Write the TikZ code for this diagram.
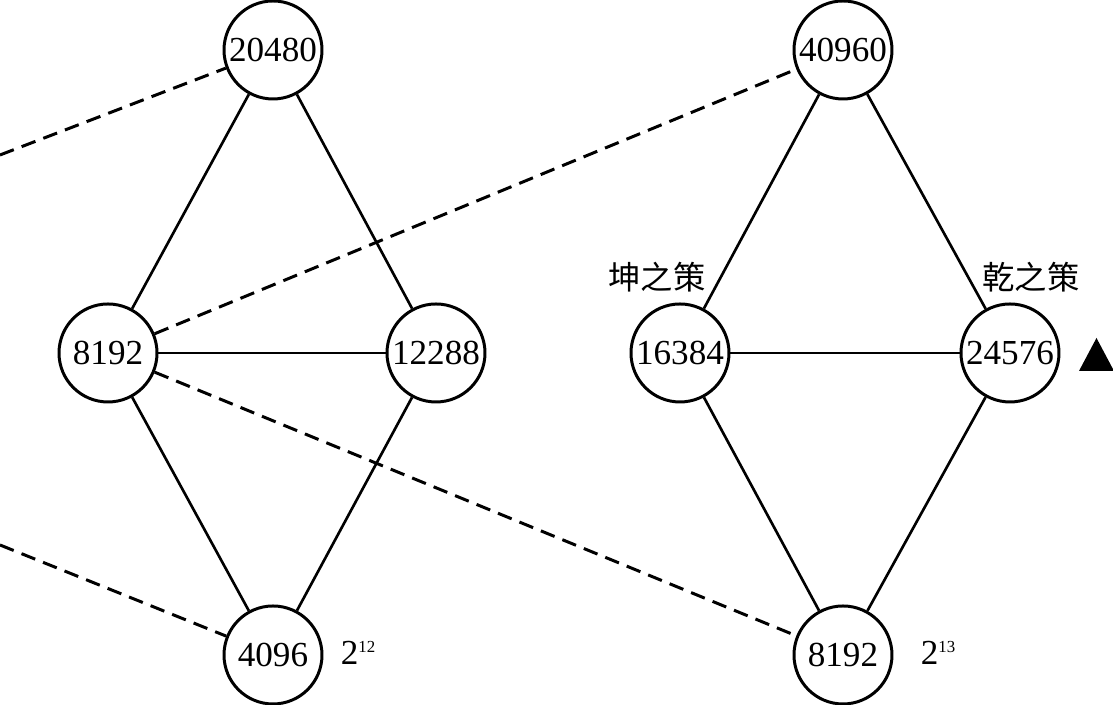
\documentclass[tikz,border=0pt]{standalone}
\usepackage{fontspec}
\setmainfont{Liberation Serif}
\newfontfamily\cjkfont{Noto Sans CJK SC}
\usetikzlibrary{calc}

\begin{document}
\begin{tikzpicture}[
    line width=0.75pt,
    num/.style={circle,draw,line width=0.85pt,minimum size=0.98cm,inner sep=0pt,
      font=\fontsize{10}{12}\selectfont},
    lbl/.style={font=\fontsize{10}{12}\selectfont},
    ce/.style={font=\cjkfont\fontsize{9.2}{11}\selectfont},
    dsh/.style={line width=0.85pt,dash pattern=on 4.2pt off 2.4pt}
]
\useasboundingbox (0,0) rectangle (11.13,7.05);
% first diamond
\node [num] (TopA) at (2.73,6.55) {20480};
\node [num] (LeftA) at (1.08,3.52) {8192};
\node [num] (RightA) at (4.36,3.52) {12288};
\node [num] (BotA) at (2.73,0.50) {4096};
\node [lbl] (PowA) at (3.59,0.52) {2\textsuperscript{\fontsize{4.8}{5}\selectfont 12}};
% second diamond
\node [num] (TopB) at (8.43,6.55) {40960};
\node [num] (LeftB) at (6.80,3.52) {16384};
\node [num] (RightB) at (10.10,3.52) {24576};
\node [num] (BotB) at (8.43,0.50) {8192};
\node [lbl] (PowB) at (9.39,0.52) {2\textsuperscript{\fontsize{4.8}{5}\selectfont 13}};
\node [ce] (Kun) at (6.57,4.28) {坤之策};
\node [ce] (Qian) at (10.31,4.28) {乾之策};
% free ends on the left edge
\coordinate (PrevUp) at (0,5.50);
\coordinate (PrevDown) at (0,1.60);
% solid edges
\draw (TopA) -- (LeftA);
\draw (TopA) -- (RightA);
\draw (LeftA) -- (RightA);
\draw (LeftA) -- (BotA);
\draw (RightA) -- (BotA);
\draw (TopB) -- (LeftB);
\draw (TopB) -- (RightB);
\draw (LeftB) -- (RightB);
\draw (LeftB) -- (BotB);
\draw (RightB) -- (BotB);
% dashed edges
\draw [dsh] (PrevUp) -- (TopA);
\draw [dsh] (PrevDown) -- (BotA);
\draw [dsh] (LeftA) -- (TopB);
\draw [dsh] (LeftA) -- (BotB);
% marker
\fill ($(RightB)+(0.69,-0.18)$) -- ++(0.35,0) -- ++(-0.175,0.33) -- cycle;
\end{tikzpicture}
\end{document}
